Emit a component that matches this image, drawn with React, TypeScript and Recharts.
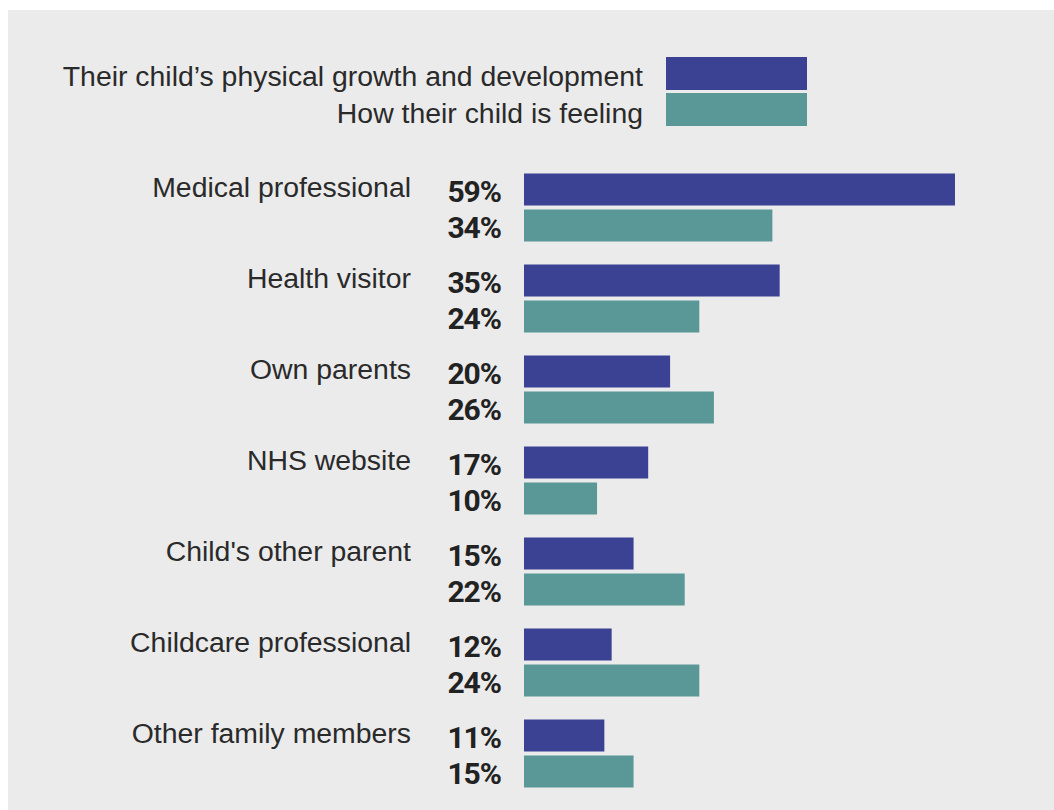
import React from "react";
import { BarChart, Bar, XAxis, YAxis, LabelList } from "recharts";

const categories = [
  "Medical professional",
  "Health visitor",
  "Own parents",
  "NHS website",
  "Child's other parent",
  "Childcare professional",
  "Other family members",
];
const growthValues = [59, 35, 20, 17, 15, 12, 11];
const feelingValues = [34, 24, 26, 10, 22, 24, 15];
const seriesNames = [
  "Their child\u2019s physical growth and development",
  "How their child is feeling",
];
const seriesColors = ["#3b4294", "#5a9898"];

const data = categories.map((c, i) => ({
  name: c,
  growth: growthValues[i],
  feeling: feelingValues[i],
}));

const LABEL_FONT = "'Liberation Sans', Arial, Helvetica, sans-serif";
const PCT_FONT = "Roboto, 'Liberation Sans', Arial, sans-serif";

const CategoryTick = (props: any) => {
  const { x, y, payload } = props;
  return (
    <text
      x={x - 113}
      y={y - 10}
      textAnchor="end"
      fontFamily={LABEL_FONT}
      fontSize={28.4}
      fill="#2a2a2a"
    >
      {payload.value}
    </text>
  );
};

const PctLabel = (props: any) => {
  const { x, y, height, value } = props;
  return (
    <text
      x={x - 23}
      y={y + height / 2 + 12}
      textAnchor="end"
      fontFamily={PCT_FONT}
      fontWeight={700}
      fontSize={30}
      letterSpacing={-1}
      fill="#222"
    >
      {value}%
    </text>
  );
};

export default function App() {
  return (
    <div>
      <style>{"html,body{margin:0;padding:0;overflow:hidden;background:#fff;}"}</style>
      <div
        style={{
          position: "absolute",
          left: 8,
          top: 10,
          width: 1046,
          height: 800,
          background: "#ebebeb",
        }}
      >
        <svg
          width={1046}
          height={150}
          style={{ position: "absolute", left: 0, top: 0 }}
        >
          {seriesNames.map((n, i) => (
            <g key={n}>
              <text
                x={635}
                y={76 + i * 37}
                textAnchor="end"
                fontFamily={LABEL_FONT}
                fontSize={28.4}
                fill="#2a2a2a"
              >
                {n}
              </text>
              <rect
                x={658}
                y={47 + i * 36}
                width={141}
                height={33}
                fill={seriesColors[i]}
              />
            </g>
          ))}
        </svg>
        <BarChart
          width={1046}
          height={800}
          data={data}
          layout="vertical"
          margin={{ top: 151.5, right: 91.7, bottom: 11.5, left: 0 }}
          barSize={32}
          barGap={4}
          style={{ position: "absolute", left: 0, top: 0 }}
        >
          <XAxis type="number" domain={[0, 60]} hide />
          <YAxis
            type="category"
            dataKey="name"
            width={516}
            axisLine={false}
            tickLine={false}
            tickSize={0}
            tickMargin={0}
            tick={<CategoryTick />}
            interval={0}
          />
          <Bar
            dataKey="growth"
            name={seriesNames[0]}
            fill={seriesColors[0]}
            isAnimationActive={false}
          >
            <LabelList dataKey="growth" content={<PctLabel />} />
          </Bar>
          <Bar
            dataKey="feeling"
            name={seriesNames[1]}
            fill={seriesColors[1]}
            isAnimationActive={false}
          >
            <LabelList dataKey="feeling" content={<PctLabel />} />
          </Bar>
        </BarChart>
      </div>
    </div>
  );
}
